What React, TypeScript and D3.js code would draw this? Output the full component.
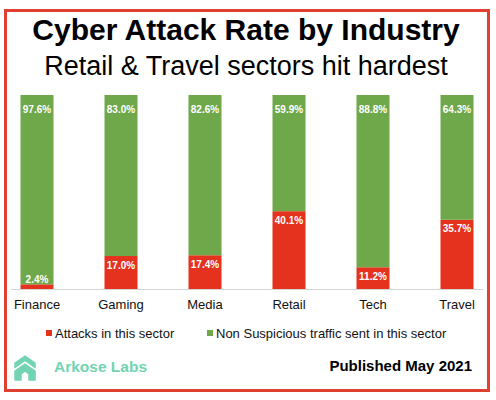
import { useEffect, useRef } from "react"
import * as d3 from "d3"

const industries = ["Finance", "Gaming", "Media", "Retail", "Tech", "Travel"]
const attacks = [2.4, 17.0, 17.4, 40.1, 11.2, 35.7]
const nonSuspicious = [97.6, 83.0, 82.6, 59.9, 88.8, 64.3]
const seriesNames = ["Attacks in this sector", "Non Suspicious traffic sent in this sector"]

const RED = "#e5321f"
const GREEN = "#6fa84a"
const FONT = "'Liberation Sans', Arial, sans-serif"

export default function App() {
  const svgRef = useRef<SVGSVGElement>(null)

  useEffect(() => {
    if (!svgRef.current) return
    const width = 496
    const height = 400
    const svg = d3.select(svgRef.current)
    svg.selectAll("*").remove()
    svg.attr("width", width).attr("height", height)

    svg.append("rect").attr("width", width).attr("height", height).attr("fill", "#fff")

    // frame
    svg
      .append("rect")
      .attr("x", 5.5)
      .attr("y", 10.5)
      .attr("width", 483)
      .attr("height", 380)
      .attr("fill", "none")
      .attr("stroke", "#e0402f")
      .attr("stroke-width", 3)

    // titles
    svg
      .append("text")
      .attr("x", 246)
      .attr("y", 40)
      .attr("text-anchor", "middle")
      .style("font-family", FONT)
      .style("font-weight", "bold")
      .style("font-size", "30px")
      .text("Cyber Attack Rate by Industry")

    svg
      .append("text")
      .attr("x", 246)
      .attr("y", 75)
      .attr("text-anchor", "middle")
      .style("font-family", FONT)
      .style("font-size", "27px")
      .text("Retail & Travel sectors hit hardest")

    const rows = industries.map((name, i) => ({
      name,
      attacks: attacks[i],
      safe: nonSuspicious[i],
    }))
    const stack = d3.stack<any>().keys(["attacks", "safe"])
    const layers = stack(rows)

    const x = d3.scalePoint<string>().domain(industries).range([37, 457])
    const y = d3.scaleLinear().domain([0, 100]).range([289, 95])
    const barW = 33
    const colors = [RED, GREEN]

    // baseline
    svg
      .append("line")
      .attr("x1", 11)
      .attr("x2", 483)
      .attr("y1", y(0) + 0.5)
      .attr("y2", y(0) + 0.5)
      .attr("stroke", "#d4d4d4")
      .attr("stroke-width", 1)

    layers.forEach((layer, li) => {
      svg
        .append("g")
        .selectAll("rect")
        .data(layer)
        .enter()
        .append("rect")
        .attr("x", (d: any) => (x(d.data.name) as number) - barW / 2)
        .attr("y", (d) => y(d[1]))
        .attr("width", barW)
        .attr("height", (d) => y(d[0]) - y(d[1]))
        .attr("fill", colors[li])
    })

    // value labels
    layers.forEach((layer, li) => {
      svg
        .append("g")
        .selectAll("text")
        .data(layer)
        .enter()
        .append("text")
        .attr("x", (d: any) => x(d.data.name) as number)
        .attr("y", (d) => {
          const top = y(d[1])
          const h = y(d[0]) - top
          if (li === 0 && h < 14) return top - 5
          return top + (li === 0 ? 9 : 14)
        })
        .attr("dy", "0.35em")
        .attr("text-anchor", "middle")
        .style("font-family", FONT)
        .style("font-weight", "bold")
        .style("font-size", "10px")
        .style("fill", "#fff")
        .text((d) => `${(d[1] - d[0]).toFixed(1)}%`)
    })

    // category labels
    svg
      .append("g")
      .selectAll("text")
      .data(industries)
      .enter()
      .append("text")
      .attr("x", (d) => x(d) as number)
      .attr("y", 309)
      .attr("text-anchor", "middle")
      .style("font-family", FONT)
      .style("font-size", "13px")
      .style("fill", "#111")
      .text((d) => d)

    // legend
    const legendX = [46, 207]
    seriesNames.forEach((name, i) => {
      const g = svg.append("g").attr("transform", `translate(${legendX[i]},333)`)
      g.append("rect").attr("x", 0).attr("y", -3).attr("width", 6).attr("height", 6).attr("fill", colors[i])
      g.append("text")
        .attr("x", 9)
        .attr("y", 0)
        .attr("dy", "0.35em")
        .style("font-family", FONT)
        .style("font-size", "13px")
        .style("fill", "#111")
        .text(name)
    })

    // logo
    const logo = svg.append("g").attr("transform", "translate(15,356)").attr("fill", "#72d4b2")
    logo.append("path").attr("d", "M0,7 L10,0 L20,7 V11.5 L10,4.5 L0,11.5 Z").attr("stroke", "#72d4b2").attr("stroke-linejoin", "round").attr("stroke-width", 1.5)
    logo.append("path").attr("d", "M0,15 L10,8 L20,15 V24 H14 V18 L10,15 L6,18 V24 H0 Z").attr("stroke", "#72d4b2").attr("stroke-linejoin", "round").attr("stroke-width", 1.5)

    svg
      .append("text")
      .attr("x", 54)
      .attr("y", 367)
      .attr("dy", "0.35em")
      .style("font-family", FONT)
      .style("font-weight", "bold")
      .style("font-size", "15.5px")
      .style("fill", "#72d4b2")
      .text("Arkose Labs")

    svg
      .append("text")
      .attr("x", 472)
      .attr("y", 366)
      .attr("dy", "0.35em")
      .attr("text-anchor", "end")
      .style("font-family", FONT)
      .style("font-weight", "bold")
      .style("font-size", "15px")
      .style("fill", "#000")
      .text("Published May 2021")
  }, [])

  return <svg ref={svgRef} style={{ position: "absolute", left: 0, top: 0, display: "block" }} />
}
